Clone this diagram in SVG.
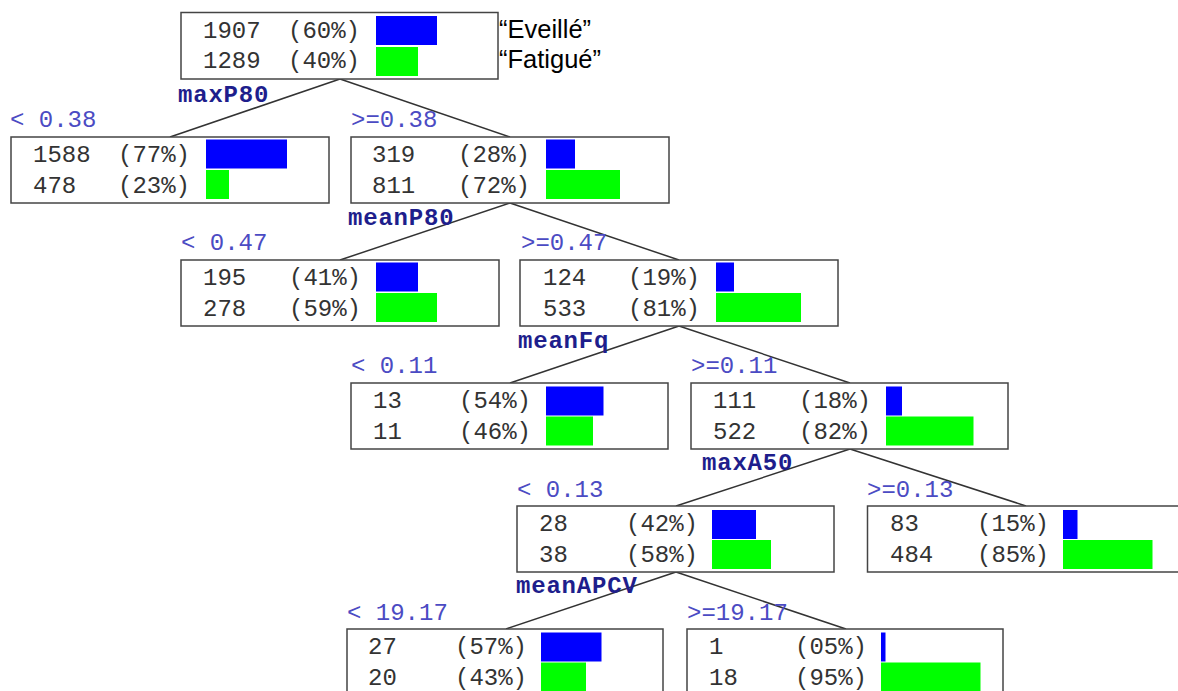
<svg xmlns="http://www.w3.org/2000/svg" width="1178" height="691" viewBox="0 0 1178 691">
<style>
.box{fill:#fff;stroke:#444;stroke-width:1.5}
.d{font-family:"Liberation Mono",monospace;font-size:24px;fill:#333}
.b{fill:#0000ff}
.g{fill:#00ff00}
.br{font-family:"Liberation Mono",monospace;font-size:24px;fill:#4b4bc3}
.sp{font-family:"Liberation Mono",monospace;font-size:24px;font-weight:bold;fill:#1e1e8c;letter-spacing:0.8px}
.leg{font-family:"Liberation Sans",Arial,sans-serif;font-size:25.5px;fill:#000}
.c{stroke:#333;stroke-width:1.5;fill:none}
</style>
<rect width="1178" height="691" fill="#fff"/>
<g id="connectors">
<line class="c" x1="340" y1="79" x2="170" y2="137"/>
<line class="c" x1="340" y1="79" x2="510" y2="137"/>
<line class="c" x1="510" y1="203" x2="340" y2="260"/>
<line class="c" x1="510" y1="203" x2="679" y2="260"/>
<line class="c" x1="679" y1="326" x2="510" y2="383"/>
<line class="c" x1="679" y1="326" x2="850" y2="383"/>
<line class="c" x1="850" y1="449" x2="676" y2="506"/>
<line class="c" x1="850" y1="449" x2="1026" y2="506"/>
<line class="c" x1="676" y1="572" x2="506" y2="629"/>
<line class="c" x1="676" y1="572" x2="846" y2="629"/>
</g>
<g id="labels">
<text class="sp" x="178" y="102">maxP80</text>
<text class="br" x="10" y="127">&lt; 0.38</text>
<text class="br" x="351" y="127">&gt;=0.38</text>
<text class="sp" x="348" y="225">meanP80</text>
<text class="br" x="181" y="250">&lt; 0.47</text>
<text class="br" x="521" y="250">&gt;=0.47</text>
<text class="sp" x="518" y="348">meanFq</text>
<text class="br" x="351" y="373">&lt; 0.11</text>
<text class="br" x="691" y="373">&gt;=0.11</text>
<text class="sp" x="702" y="470">maxA50</text>
<text class="br" x="517" y="497">&lt; 0.13</text>
<text class="br" x="867" y="497">&gt;=0.13</text>
<text class="sp" x="516" y="593">meanAPCV</text>
<text class="br" x="347" y="620">&lt; 19.17</text>
<text class="br" x="687" y="620">&gt;=19.17</text>
</g>
<g id="root">
<rect class="box" x="181" y="12.5" width="317" height="66.5"/>
<text class="d" x="203" y="38">1907</text><text class="d" x="288" y="38">(60%)</text>
<text class="d" x="203" y="68">1289</text><text class="d" x="288" y="68">(40%)</text>
<rect class="b" x="376" y="16" width="61" height="29"/>
<rect class="g" x="376" y="47" width="42" height="29"/>
</g>
<g id="legend">
<text class="leg" x="499" y="38">“Eveillé”</text>
<text class="leg" x="499" y="68">“Fatigué”</text>
</g>
<g id="n_L1">
<rect class="box" x="11" y="137" width="318" height="66"/>
<text class="d" x="33" y="162">1588</text><text class="d" x="118" y="162">(77%)</text>
<text class="d" x="33" y="193">478</text><text class="d" x="118" y="193">(23%)</text>
<rect class="b" x="206" y="139.5" width="81" height="29"/>
<rect class="g" x="206" y="170" width="23" height="29"/>
</g>
<g id="n_R1">
<rect class="box" x="351" y="137" width="318" height="66"/>
<text class="d" x="372" y="162">319</text><text class="d" x="458" y="162">(28%)</text>
<text class="d" x="372" y="193">811</text><text class="d" x="458" y="193">(72%)</text>
<rect class="b" x="546" y="139.5" width="29" height="29"/>
<rect class="g" x="546" y="170" width="74" height="29"/>
</g>
<g id="n_L2">
<rect class="box" x="181" y="260" width="318" height="66"/>
<text class="d" x="203" y="285">195</text><text class="d" x="289" y="285">(41%)</text>
<text class="d" x="203" y="316">278</text><text class="d" x="289" y="316">(59%)</text>
<rect class="b" x="376" y="262.5" width="42" height="29"/>
<rect class="g" x="376" y="293" width="61" height="29"/>
</g>
<g id="n_R2">
<rect class="box" x="520" y="260" width="318" height="66"/>
<text class="d" x="543" y="285">124</text><text class="d" x="628" y="285">(19%)</text>
<text class="d" x="543" y="316">533</text><text class="d" x="628" y="316">(81%)</text>
<rect class="b" x="716" y="262.5" width="18" height="29"/>
<rect class="g" x="716" y="293" width="85" height="29"/>
</g>
<g id="n_L3">
<rect class="box" x="351" y="383" width="317" height="66"/>
<text class="d" x="373" y="408">13</text><text class="d" x="459" y="408">(54%)</text>
<text class="d" x="373" y="439">11</text><text class="d" x="459" y="439">(46%)</text>
<rect class="b" x="546" y="386.5" width="57.5" height="29"/>
<rect class="g" x="546" y="416.5" width="47" height="29"/>
</g>
<g id="n_R3">
<rect class="box" x="691" y="383" width="317" height="66"/>
<text class="d" x="713" y="408">111</text><text class="d" x="799" y="408">(18%)</text>
<text class="d" x="713" y="439">522</text><text class="d" x="799" y="439">(82%)</text>
<rect class="b" x="886" y="386.5" width="16" height="29"/>
<rect class="g" x="886" y="416.5" width="87.5" height="29"/>
</g>
<g id="n_L4">
<rect class="box" x="517" y="506" width="317" height="66"/>
<text class="d" x="539" y="531">28</text><text class="d" x="626" y="531">(42%)</text>
<text class="d" x="539" y="562">38</text><text class="d" x="626" y="562">(58%)</text>
<rect class="b" x="712" y="510" width="44" height="29"/>
<rect class="g" x="712" y="540" width="59" height="29"/>
</g>
<g id="n_R4">
<rect class="box" x="867.5" y="506" width="318" height="66"/>
<text class="d" x="890" y="531">83</text><text class="d" x="977" y="531">(15%)</text>
<text class="d" x="890" y="562">484</text><text class="d" x="977" y="562">(85%)</text>
<rect class="b" x="1063" y="510" width="14.5" height="29"/>
<rect class="g" x="1063" y="540" width="89.5" height="29"/>
</g>
<g id="n_L5">
<rect class="box" x="347" y="629" width="316" height="66"/>
<text class="d" x="368" y="654">27</text><text class="d" x="455" y="654">(57%)</text>
<text class="d" x="368" y="685">20</text><text class="d" x="455" y="685">(43%)</text>
<rect class="b" x="541" y="632.5" width="60.5" height="29"/>
<rect class="g" x="541" y="662.5" width="45" height="29"/>
</g>
<g id="n_R5">
<rect class="box" x="687" y="629" width="316" height="66"/>
<text class="d" x="709" y="654">1</text><text class="d" x="795" y="654">(05%)</text>
<text class="d" x="709" y="685">18</text><text class="d" x="795" y="685">(95%)</text>
<rect class="b" x="881" y="632.5" width="4.5" height="29"/>
<rect class="g" x="881" y="662.5" width="99.5" height="29"/>
</g>
</svg>
